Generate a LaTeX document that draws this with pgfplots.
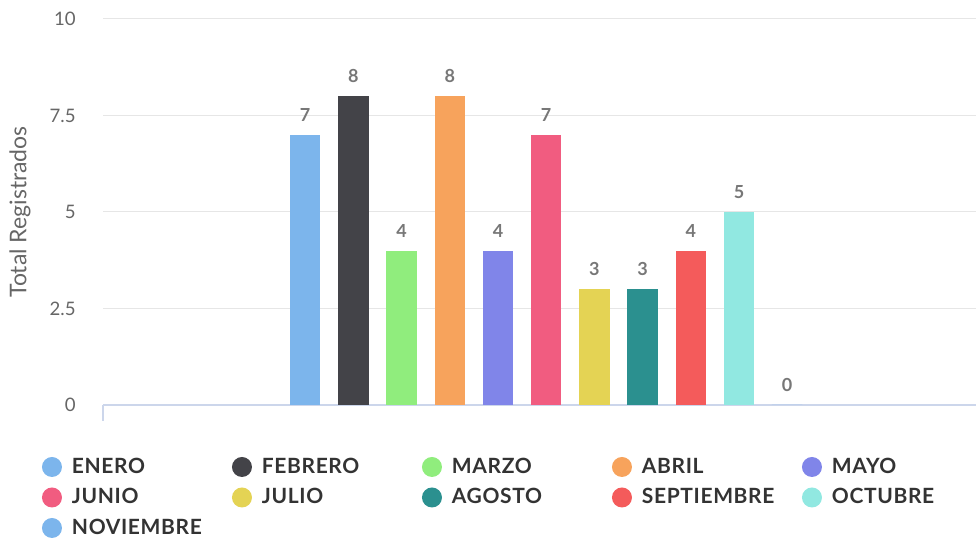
\documentclass[border=0pt]{standalone}
\usepackage{fontspec}
\setmainfont{Lato}
\usepackage{pgfplots}
\pgfplotsset{compat=1.18}

\definecolor{c1}{HTML}{7CB5EC}
\definecolor{c2}{HTML}{434348}
\definecolor{c3}{HTML}{90ED7D}
\definecolor{c4}{HTML}{F7A35C}
\definecolor{c5}{HTML}{8085E9}
\definecolor{c6}{HTML}{F15C80}
\definecolor{c7}{HTML}{E4D354}
\definecolor{c8}{HTML}{2B908F}
\definecolor{c9}{HTML}{F45B5B}
\definecolor{c10}{HTML}{91E8E1}
\definecolor{axisblue}{HTML}{CCD6EB}
\definecolor{gridgray}{HTML}{E6E6E6}
\definecolor{ticktext}{HTML}{666666}
\definecolor{labeltext}{HTML}{777777}
\definecolor{legendtext}{HTML}{333333}

\newfontfamily\legendfont{Lato}[LetterSpace=3]
\newcommand{\entrada}[1]{\makebox[80pt][l]{#1}}

\pgfplotsset{
  mes/.style={ybar, bar width=15.25pt, bar shift=0pt, fill=#1, draw=none},
}

\begin{document}
\begin{tikzpicture}
\useasboundingbox (0,0) rectangle (488pt,269.5pt);
\begin{axis}[
  at={(51.5pt,67pt)}, anchor=south west,
  scale only axis, width=436.5pt, height=193pt,
  xmin=-4.195, xmax=13.917, ymin=0, ymax=10,
  ytick={0,2.5,5,7.5,10}, xtick=\empty,
  axis lines*=left,
  x axis line style={axisblue, line width=0.75pt},
  y axis line style={draw=none},
  ymajorgrids, grid style={gridgray, line width=0.5pt},
  major tick length=0pt,
  /pgf/number format/assume math mode=true,
  yticklabel style={font=\fontsize{9.3}{11}\selectfont, color=ticktext,
    anchor=east, inner sep=0pt, xshift=-13.5pt},
  ylabel={Total Registrados},
  ylabel style={at={(axis description cs:-0.0951,0.5)}, anchor=center,
    font=\fontsize{11.5}{13}\selectfont, color=ticktext},
  nodes near coords,
  every node near coord/.append style={font=\bfseries\fontsize{9}{11}\selectfont,
    color=labeltext, anchor=south, inner sep=0pt, yshift=6.5pt},
  legend columns=5,
  legend cell align=left,
  legend style={at={(axis description cs:-0.0699,-0.1347)}, anchor=north west,
    draw=none, fill=none, inner sep=0pt, outer sep=0pt,
    row sep=5.25pt, column sep=0pt,
    nodes={inner sep=0pt, font=\legendfont\bfseries\fontsize{10.5}{12}\selectfont,
      text=legendtext},
    /tikz/every odd column/.append style={column sep=5pt}},
  legend image code/.code={\fill[#1] (5pt,0pt) circle (5pt);},
]
\addplot[mes=c1] coordinates {(0,7)};
\addlegendentry{\entrada{ENERO}}
\addplot[mes=c2] coordinates {(1,8)};
\addlegendentry{\entrada{FEBRERO}}
\addplot[mes=c3] coordinates {(2,4)};
\addlegendentry{\entrada{MARZO}}
\addplot[mes=c4] coordinates {(3,8)};
\addlegendentry{\entrada{ABRIL}}
\addplot[mes=c5] coordinates {(4,4)};
\addlegendentry{MAYO}
\addplot[mes=c6] coordinates {(5,7)};
\addlegendentry{\entrada{JUNIO}}
\addplot[mes=c7] coordinates {(6,3)};
\addlegendentry{\entrada{JULIO}}
\addplot[mes=c8] coordinates {(7,3)};
\addlegendentry{\entrada{AGOSTO}}
\addplot[mes=c9] coordinates {(8,4)};
\addlegendentry{\entrada{SEPTIEMBRE}}
\addplot[mes=c10] coordinates {(9,5)};
\addlegendentry{OCTUBRE}
\addplot[mes=c1] coordinates {(10,0)};
\addlegendentry{\entrada{NOVIEMBRE}}
\end{axis}
\draw[axisblue, line width=0.75pt] (51.5pt,67pt) -- ++(0,-8pt);
\end{tikzpicture}
\end{document}
